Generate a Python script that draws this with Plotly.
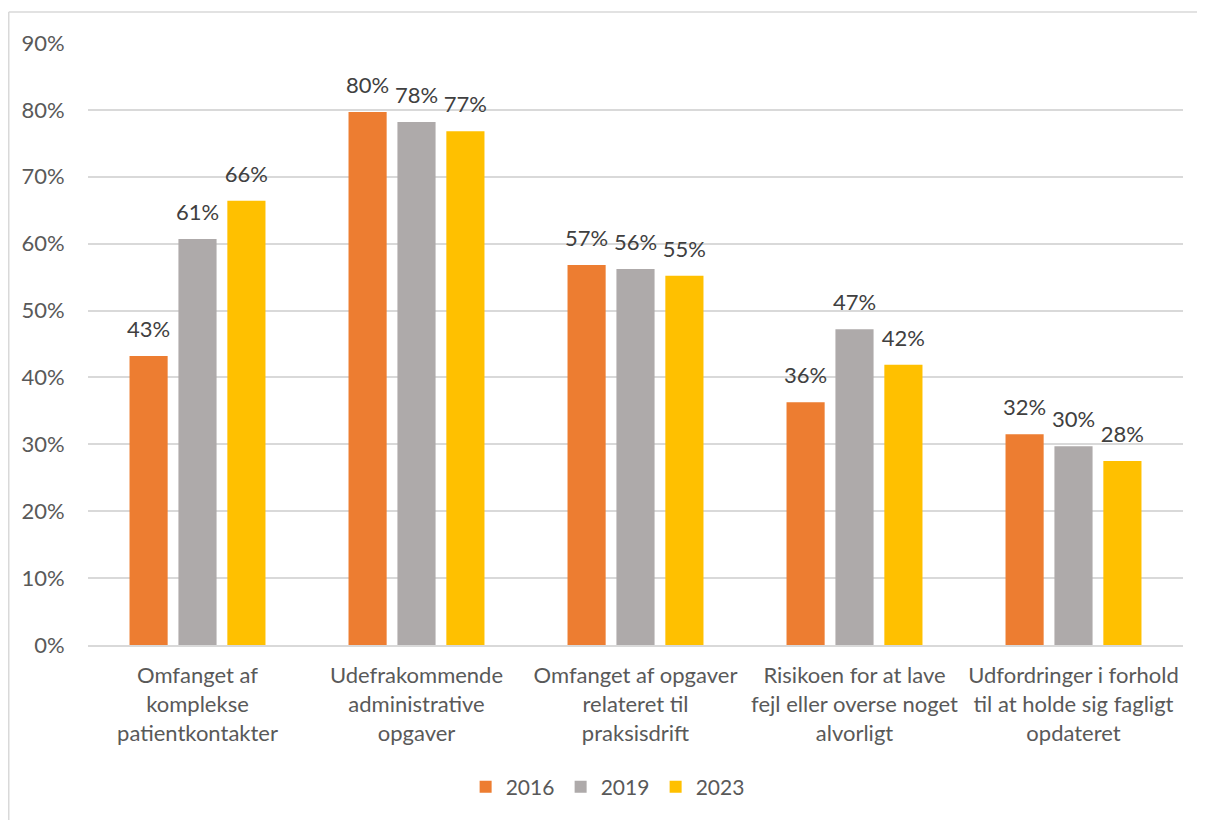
import plotly.graph_objects as go

categories = [
    "Omfanget af<br>komplekse<br>patientkontakter",
    "Udefrakommende<br>administrative<br>opgaver",
    "Omfanget af opgaver<br>relateret til<br>praksisdrift",
    "Risikoen for at lave<br>fejl eller overse noget<br>alvorligt",
    "Udfordringer i forhold<br>til at holde sig fagligt<br>opdateret",
]
years = ["2016", "2019", "2023"]
values_2016 = [43.2, 79.7, 56.8, 36.3, 31.5]
values_2019 = [60.7, 78.2, 56.2, 47.2, 29.7]
values_2023 = [66.4, 76.8, 55.2, 41.9, 27.5]
colors = ["#ED7D31", "#AEAAAA", "#FFC000"]

FONT = "Lato, Open Sans, sans-serif"
TXT = "#595959"

fig = go.Figure()
for name, vals, col in zip(years, [values_2016, values_2019, values_2023], colors):
    fig.add_trace(go.Bar(
        name=name, x=categories, y=vals, offsetgroup=name,
        marker=dict(color=col, line=dict(width=0)),
    ))
for name, vals in zip(years, [values_2016, values_2019, values_2023]):
    fig.add_trace(go.Scatter(
        x=categories, y=vals, offsetgroup=name, mode="markers+text",
        marker=dict(size=20, opacity=0), texttemplate="%{y:.0f}%",
        textposition="top center", cliponaxis=False, showlegend=False,
        hoverinfo="skip", textfont=dict(family=FONT, size=22, color="#404040"),
    ))

# page body has an 8px margin, so the figure is drawn 8px right/down
W, H = 1197, 812
L, R, T, B = 80, 22, 35, 175
pw, ph = W - L - R, H - T - B

fig.update_layout(
    width=W, height=H, barmode="group", bargap=0.33, bargroupgap=0.22,
    scattermode="group", scattergap=0.33,
    margin=dict(l=L, r=R, t=T, b=B, autoexpand=False),
    plot_bgcolor="white", paper_bgcolor="white",
    font=dict(family=FONT, size=22, color=TXT),
    legend=dict(orientation="h", x=0.475, xanchor="center", y=(-(779 - 637)) / ph,
                yanchor="middle", font=dict(family=FONT, size=21, color=TXT),
                itemwidth=30, entrywidth=50, traceorder="normal"),
    showlegend=True,
)
fig.update_xaxes(showline=True, linecolor="#D9D9D9", linewidth=2, ticks="",
                 ticklabelstandoff=10,
                 tickfont=dict(family=FONT, size=22, color=TXT), showgrid=False)
fig.update_yaxes(range=[0, 90], dtick=10, ticksuffix="%", showgrid=True,
                 gridcolor="#D9D9D9", gridwidth=1.5, zeroline=False, showline=False,
                 ticks="outside", ticklen=18, tickcolor="rgba(0,0,0,0)",
                 tickfont=dict(family=FONT, size=22, color=TXT))

# chart border (Excel chart area outline)
x_left = (0.75 - L) / pw
y_top = (H - B - 4) / ph
fig.add_shape(type="line", xref="paper", yref="paper", x0=x_left, x1=x_left,
              y0=y_top, y1=-0.4, line=dict(color="#D9D9D9", width=1.5))
fig.add_shape(type="line", xref="paper", yref="paper", x0=x_left, x1=1.1,
              y0=y_top, y1=y_top, line=dict(color="#D9D9D9", width=1.5))

fig.write_html("out.html")
